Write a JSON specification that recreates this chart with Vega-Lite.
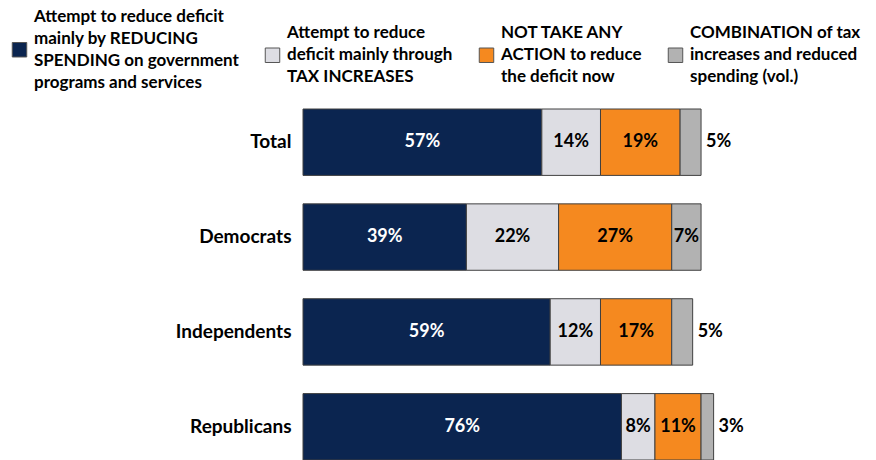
{
  "$schema": "https://vega.github.io/schema/vega-lite/v6.json",
  "width": 419,
  "height": 351,
  "autosize": "none",
  "padding": {"left": 303, "top": 109, "right": 154, "bottom": 0},
  "background": "white",
  "config": {
    "view": {"stroke": null},
    "font": "Lato",
    "style": {"guide-label": {"lineHeight": 22}}
  },
  "data": {
    "values": [
      {"group": "Total", "answer": "Attempt to reduce deficit\nmainly by REDUCING\nSPENDING on government\nprograms and services", "order": 1, "value": 0.57},
      {"group": "Total", "answer": "Attempt to reduce\ndeficit mainly through\nTAX INCREASES", "order": 2, "value": 0.14},
      {"group": "Total", "answer": "NOT TAKE ANY\nACTION to reduce\nthe deficit now", "order": 3, "value": 0.19},
      {"group": "Total", "answer": "COMBINATION of tax\nincreases and reduced\nspending (vol.)", "order": 4, "value": 0.05},
      {"group": "Democrats", "answer": "Attempt to reduce deficit\nmainly by REDUCING\nSPENDING on government\nprograms and services", "order": 1, "value": 0.39},
      {"group": "Democrats", "answer": "Attempt to reduce\ndeficit mainly through\nTAX INCREASES", "order": 2, "value": 0.22},
      {"group": "Democrats", "answer": "NOT TAKE ANY\nACTION to reduce\nthe deficit now", "order": 3, "value": 0.27},
      {"group": "Democrats", "answer": "COMBINATION of tax\nincreases and reduced\nspending (vol.)", "order": 4, "value": 0.07},
      {"group": "Independents", "answer": "Attempt to reduce deficit\nmainly by REDUCING\nSPENDING on government\nprograms and services", "order": 1, "value": 0.59},
      {"group": "Independents", "answer": "Attempt to reduce\ndeficit mainly through\nTAX INCREASES", "order": 2, "value": 0.12},
      {"group": "Independents", "answer": "NOT TAKE ANY\nACTION to reduce\nthe deficit now", "order": 3, "value": 0.17},
      {"group": "Independents", "answer": "COMBINATION of tax\nincreases and reduced\nspending (vol.)", "order": 4, "value": 0.05},
      {"group": "Republicans", "answer": "Attempt to reduce deficit\nmainly by REDUCING\nSPENDING on government\nprograms and services", "order": 1, "value": 0.76},
      {"group": "Republicans", "answer": "Attempt to reduce\ndeficit mainly through\nTAX INCREASES", "order": 2, "value": 0.08},
      {"group": "Republicans", "answer": "NOT TAKE ANY\nACTION to reduce\nthe deficit now", "order": 3, "value": 0.11},
      {"group": "Republicans", "answer": "COMBINATION of tax\nincreases and reduced\nspending (vol.)", "order": 4, "value": 0.03}
    ]
  },
  "transform": [
    {"stack": "value", "groupby": ["group"], "sort": [{"field": "order", "order": "ascending"}], "as": ["x0", "x1"]}
  ],
  "encoding": {
    "y": {
      "field": "group",
      "type": "nominal",
      "sort": ["Total", "Democrats", "Independents", "Republicans"],
      "scale": {"paddingInner": 0.3, "paddingOuter": 0},
      "title": null,
      "axis": {
        "ticks": false,
        "domain": false,
        "labelFont": "Lato",
        "labelFontSize": 19,
        "labelFontWeight": "bold",
        "labelColor": "black",
        "labelPadding": 12
      }
    }
  },
  "layer": [
    {
      "mark": {"type": "bar", "stroke": "#404040", "strokeWidth": 1},
      "encoding": {
        "x": {"field": "x0", "type": "quantitative", "scale": {"domain": [0, 1]}, "axis": null},
        "x2": {"field": "x1"},
        "color": {
          "field": "answer",
          "type": "nominal",
          "scale": {
            "domain": [
              "Attempt to reduce deficit\nmainly by REDUCING\nSPENDING on government\nprograms and services",
              "Attempt to reduce\ndeficit mainly through\nTAX INCREASES",
              "NOT TAKE ANY\nACTION to reduce\nthe deficit now",
              "COMBINATION of tax\nincreases and reduced\nspending (vol.)"
            ],
            "range": ["#0b2550", "#dddde3", "#f5891f", "#b2b2b2"]
          },
          "legend": {
            "orient": "none",
            "legendX": -292,
            "legendY": -68,
            "direction": "horizontal",
            "title": null,
            "symbolType": "square",
            "symbolSize": 210,
            "symbolStrokeColor": "#555555",
            "symbolStrokeWidth": 1,
            "labelFont": "Lato",
            "labelFontSize": 17,
            "labelFontWeight": "bold",
            "labelColor": "black",
            "labelLimit": 400,
            "labelOffset": 6,
            "columnPadding": 24,
            "labelExpr": "split(datum.label, '\\n')",
            "encode": {
              "labels": {
                "update": {
                  "dy": {"signal": "-(length(split(datum.label, '\\n')) - 1) * 11"}
                }
              }
            }
          }
        }
      }
    },
    {
      "transform": [
        {"filter": "!(datum.order == 4 && datum.value < 0.07)"},
        {"calculate": "(datum.x0 + datum.x1) / 2", "as": "mid"}
      ],
      "mark": {"type": "text", "font": "Lato", "fontSize": 18, "fontWeight": "bold"},
      "encoding": {
        "x": {"field": "mid", "type": "quantitative"},
        "text": {"field": "value", "type": "quantitative", "format": ".0%"},
        "color": {"condition": {"test": "datum.order == 1", "value": "white"}, "value": "black"}
      }
    },
    {
      "transform": [
        {"filter": "datum.order == 4 && datum.value < 0.07"}
      ],
      "mark": {"type": "text", "font": "Lato", "fontSize": 18, "fontWeight": "bold", "align": "left", "dx": 5, "color": "black"},
      "encoding": {
        "x": {"field": "x1", "type": "quantitative"},
        "text": {"field": "value", "type": "quantitative", "format": ".0%"}
      }
    }
  ]
}
